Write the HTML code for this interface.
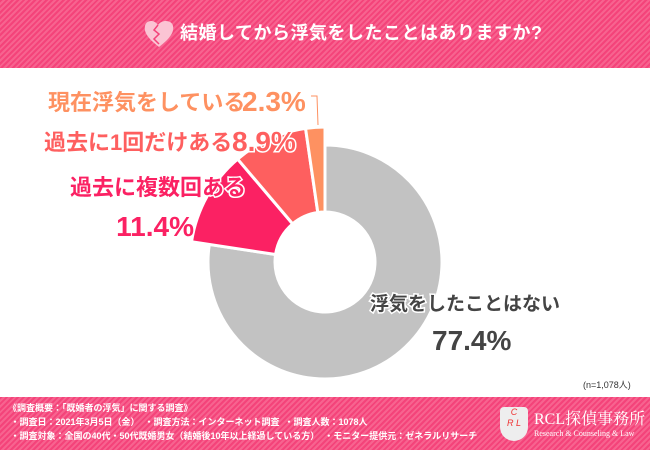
<!DOCTYPE html>
<html><head><meta charset="utf-8"><style>
body{margin:0;width:650px;height:450px;overflow:hidden;background:#fff;font-family:"Liberation Sans","Noto Sans CJK JP",sans-serif}
.band{position:absolute;left:0;width:650px;background:repeating-linear-gradient(135deg,#f4437a 0 2px,#f7638f 2px 4px)}
</style></head><body>
<div class="band" style="top:0;height:68px"></div>
<div style="position:absolute;top:19px;left:180px;color:#fff;font-weight:bold;font-size:18px;letter-spacing:0.5px">結婚してから浮気をしたことはありますか?</div>
<svg style="position:absolute;left:142px;top:17px" width="34" height="34"><path d="M17 30 C4 20 2 14 3 9 C4 3 12 2 16 8 C20 2 30 3 31 9 C32 14 30 20 17 30Z" fill="#fbc4d4"/><path d="M16 8 L12 13 L17 17 L12 22 L17 27" stroke="#f4437a" stroke-width="1.5" fill="none"/></svg>
<svg id="chart" width="650" height="450" style="position:absolute;left:0;top:0"></svg>
<div style="position:absolute;top:378px;left:583px;font-size:9px;color:#333">(n=1,078人)</div>
<div class="band" style="top:397px;height:53px"></div>
<div style="position:absolute;top:401px;left:8px;color:#fff;font-size:9px;line-height:14px;font-weight:bold">《調査概要：「既婚者の浮気」に関する調査》<br>&nbsp;・調査日：2021年3月5日（金） &nbsp;・調査方法：インターネット調査 &nbsp;・調査人数：1078人<br>&nbsp;・調査対象：全国の40代・50代既婚男女（結婚後10年以上経過している方） &nbsp;・モニター提供元：ゼネラルリサーチ</div>
<div style="position:absolute;top:405px;left:498px;color:#fff">
<div style="position:absolute;left:2px;top:2px;width:28px;height:34px;border-radius:4px 4px 14px 14px;background:#eee;color:#e33;font-size:9px;text-align:center;line-height:11px;font-style:italic">C<br>R L</div>
<div style="position:absolute;left:36px;top:1px;font-family:'Liberation Serif','Noto Serif CJK SC',serif;font-size:16px;white-space:nowrap">RCL探偵事務所</div>
<div style="position:absolute;left:36px;top:24px;font-family:'Liberation Serif',serif;font-size:8px;white-space:nowrap">Research &amp; Counseling &amp; Law</div></div>
<script>
const categories=["浮気をしたことはない","過去に複数回ある","過去に1回だけある","現在浮気をしている"];
const values=[77.4,11.4,8.9,2.3];
const labels=["77.4%","11.4%","8.9%","2.3%"];
const colors=["#c2c2c2","#fb2163","#fe5f5f","#fe9161"];
const cx=325,cy=262,ri=50;
const radii=[117,135,135,135];
const svg=document.getElementById('chart');
const NS="http://www.w3.org/2000/svg";
const total=values.reduce((a,b)=>a+b,0);
function pt(r,a){return [cx+r*Math.sin(a),cy-r*Math.cos(a)];}
let acc=0;
values.forEach((v,i)=>{
 const a0=acc/total*2*Math.PI,a1=(acc+v)/total*2*Math.PI;acc+=v;
 const R=radii[i],lg=(a1-a0)>Math.PI?1:0;
 const p0=pt(R,a0),p1=pt(R,a1),q1=pt(ri,a1),q0=pt(ri,a0);
 const p=document.createElementNS(NS,'path');
 p.setAttribute('d',`M${p0}A${R},${R} 0 ${lg} 1 ${p1}L${q1}A${ri},${ri} 0 ${lg} 0 ${q0}Z`);
 p.setAttribute('fill',colors[i]);p.setAttribute('stroke','#fff');p.setAttribute('stroke-width','3');
 
 
 svg.appendChild(p);
});
function txt(x,y,s,size,col,anchor,name){
 const t=document.createElementNS(NS,'text');
 t.setAttribute('x',x);t.setAttribute('y',y);t.setAttribute('font-size',size);t.setAttribute('fill',col);
 t.setAttribute('font-weight','bold');t.setAttribute('text-anchor',anchor||'start');
 t.setAttribute('stroke','#fff');t.setAttribute('stroke-width','3');t.setAttribute('paint-order','stroke');
 t.setAttribute('font-family','"Liberation Sans","Noto Sans CJK JP",sans-serif');
 t.textContent=s;
 
 
 svg.appendChild(t);return t;}
txt(48,110,categories[3],22,colors[3],'start','label-current');
txt(242,111,labels[3],28,colors[3],'start','value-current');
txt(44,150,categories[2],22,colors[2],'start','label-once');
txt(232,151,labels[2],28,colors[2],'start','value-once');
txt(70,195,categories[1],22,colors[1],'start','label-multiple');
txt(194,236,labels[1],28,colors[1],'end','value-multiple');
txt(370,310,categories[0],19,'#444','start','label-never');
txt(432,350,labels[0],28,'#444','start','value-never');
const l=document.createElementNS(NS,'path');
l.setAttribute('d','M311 96 L317 96 L318 125');l.setAttribute('stroke',colors[3]);l.setAttribute('fill','none');


svg.appendChild(l);
</script>
</body></html>
